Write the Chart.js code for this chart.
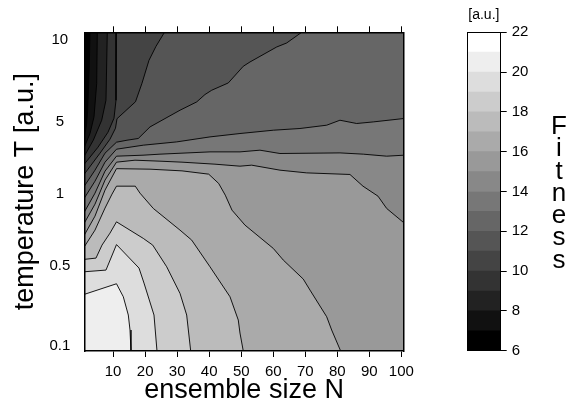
<!DOCTYPE html>
<html lang="en">
<head>
<meta charset="UTF-8">
<title>Fitness over ensemble size and temperature</title>
<script src="https://cdn.jsdelivr.net/npm/chart.js"></script>
<style>
  html, body { margin: 0; padding: 0; background: #fff; }
  #wrap { position: relative; width: 573px; height: 407px; }
  #contour { position: absolute; left: 0; top: 0; }
  #scale { position: absolute; left: 420px; top: 0; }
  #fitness {
    position: absolute; left: 544px; top: 114px; width: 30px;
    text-align: center; color: #000;
    font-family: "Liberation Sans", Arial, sans-serif; font-size: 26px; line-height: 22.3px;
  }
</style>
</head>
<body>
<div id="wrap">
  <canvas id="contour" width="420" height="407"></canvas>
  <canvas id="scale" width="153" height="407"></canvas>
  <div id="fitness">F<br>i<br>t<br>n<br>e<br>s<br>s</div>
</div>

<script>
  // axes
  const nTicks = [10, 20, 30, 40, 50, 60, 70, 80, 90, 100];
  const nRange = [1, 100.8];
  const tLabels = ['0.1', '0.5', '1', '5', '10'];
  const tAt = [1.6, 26.6, 49.2, 71.9, 97.5];   // where each T label sits on the axis
  const tRange = [0, 100];

  // iso-fitness lines as [N, T-axis position]
  const iso07 = [[2.78, 100], [2.56, 89.12], [2.06, 75.55], [1.69, 70.85], [1, 67.4]];
  const iso08 = [[5.06, 100], [4.87, 83.92], [4.03, 73.45], [2.78, 68.24], [1, 63.95]];
  const iso09 = [[8.18, 100], [7.77, 78.68], [6.43, 72.41], [3.81, 66.14], [1, 61.13]];
  const iso10 = [[10.99, 100], [10.9, 78.68], [10.27, 73.04], [8.4, 68.65], [5.28, 63.95], [1, 58.62]];
  const iso11 = [[1, 55.49], [5.9, 62.07], [9.02, 66.46], [10.74, 69.91], [11.21, 72.88], [16.99, 78.21],
                 [19.01, 84.01], [21.2, 91.22], [23.39, 95.61], [26.04, 100]];
  const iso12 = [[1, 51.72], [4.34, 56.74], [7.46, 62.07], [11.05, 65.52], [14.33, 66.14], [17.86, 66.68],
                 [21.51, 70.31], [30.88, 75.55], [36.09, 78.15], [38.68, 80.47], [40.78, 81.82], [45.96, 84.11],
                 [50.64, 89.34], [52.73, 90.69], [61.07, 95.39], [64.19, 96.65], [68.87, 100]];
  const iso13 = [[1, 47.96], [4.34, 53.29], [7.46, 59.25], [11.05, 63.32], [19.42, 64.58], [29.85, 65.61],
                 [40.24, 67.18], [49.61, 68.24], [60.01, 69.28], [68.34, 69.81], [76.68, 70.85], [80.83, 72.41],
                 [86.05, 71.38], [91.23, 71.88], [100.8, 72.95]];
  const iso14 = [[1, 43.57], [4.34, 49.53], [7.46, 56.43], [11.05, 61.13], [19.33, 61.44], [24.63, 61.76],
                 [40.24, 62.48], [49.61, 62.48], [55.85, 63.01], [62.1, 61.97], [80.83, 62.16], [88.11, 61.76],
                 [95.41, 61.13], [100.8, 61.44]];
  const iso15 = [[1, 40.13], [4.34, 46.08], [7.46, 53.61], [11.05, 59.25], [16.83, 59.87], [24.63, 59.56],
                 [31.5, 59.25], [41.81, 58.62], [49.61, 57.99], [53.26, 58.31], [62.1, 56.74], [70.44, 55.89],
                 [83.95, 55.39], [88.01, 51.72], [92.7, 48.59], [95.41, 44.73], [100.8, 40.22]];
  const iso16 = [[1, 36.36], [4.34, 42.32], [7.46, 50.47], [11.05, 57.21], [21.51, 57.05], [31.5, 56.52],
                 [39.84, 55.49], [42.96, 52.57], [45.02, 48.9], [47.11, 44.2], [51.17, 39.5], [60.01, 32.19],
                 [63.13, 28.53], [69.37, 22.57], [71.47, 19.12], [76.68, 10.75], [78.24, 6.58], [81.05, 0]];
  const iso17 = [[1, 32.7], [4.34, 37.93], [7.46, 44.83], [9.65, 49.22], [11.05, 51.72], [16.92, 51.72],
                 [18.39, 49.53], [22.54, 44.73], [30.88, 37.93], [34.53, 34.8], [40.24, 26.43], [46.49, 17.02],
                 [49.08, 9.72], [49.61, 5.64], [50.64, 0]];
  const iso18 = [[1, 28.75], [4.65, 29.15], [6.53, 33.23], [9.02, 36.99], [11.05, 40.53], [19.42, 35.33],
                 [22.36, 33.23], [26.73, 26.43], [30.88, 18.09], [32.97, 11.29], [34.22, 0]];
  const iso19 = [[1, 24.86], [7.77, 25.39], [11.05, 33.39], [18.08, 26.02], [19.64, 21.32], [22.76, 11.29], [23.7, 0]];
  const iso20 = [[1, 17.77], [11.05, 21.1], [13.18, 17.02], [14.74, 11.29], [15.27, 6.58], [15.58, 0]];

  const isoLines = [[7, iso07], [8, iso08], [9, iso09], [10, iso10], [11, iso11], [12, iso12], [13, iso13],
                    [14, iso14], [15, iso15], [16, iso16], [17, iso17], [18, iso18], [19, iso19], [20, iso20]];

  // colour key
  const fitnessEdges = [6, 7, 8, 9, 10, 11, 12, 13, 14, 15, 16, 17, 18, 19, 20, 21, 22];
  const keyTicks = [6, 8, 10, 12, 14, 16, 18, 20, 22];

  Chart.defaults.font.family = '"Liberation Sans", Arial, sans-serif';
  Chart.defaults.color = '#000';

  function grey(lo) {
    const v = Math.round(255 * (lo - 6) / 15);
    return 'rgb(' + v + ',' + v + ',' + v + ')';
  }

  // corners of the plotting window, counter-clockwise from bottom left
  const corners = [[nRange[0], tRange[0]], [nRange[1], tRange[0]], [nRange[1], tRange[1]], [nRange[0], tRange[1]]];
  const mod4 = v => ((v % 4) + 4) % 4;

  // position of an edge point along the frame, 0..4
  function perim([x, y]) {
    const w = nRange[1] - nRange[0], h = tRange[1] - tRange[0];
    if (Math.abs(y - tRange[0]) < 1e-6) return (x - nRange[0]) / w;
    if (Math.abs(x - nRange[1]) < 1e-6) return 1 + (y - tRange[0]) / h;
    if (Math.abs(y - tRange[1]) < 1e-6) return 2 + (nRange[1] - x) / w;
    return 3 + (tRange[1] - y) / h;
  }

  // close an iso line along the frame so the area holds the high-fitness corner
  function region(line) {
    const sA = perim(line[0]);
    const sB = perim(line[line.length - 1]);
    const down = mod4(sB - sA);
    let walk;
    if (mod4(sB) < down) {
      walk = [0, 1, 2, 3].filter(k => mod4(sB - k) > 0 && mod4(sB - k) < down)
        .sort((a, b) => mod4(sB - a) - mod4(sB - b));
    } else {
      const up = mod4(sA - sB);
      walk = [0, 1, 2, 3].filter(k => mod4(k - sB) > 0 && mod4(k - sB) < up)
        .sort((a, b) => mod4(a - sB) - mod4(b - sB));
    }
    return line.concat(walk.map(k => corners[k]), [line[0]]).map(([x, y]) => ({x, y}));
  }

  const areas = isoLines.map(([lvl, line]) => ({
    data: region(line),
    backgroundColor: grey(lvl),
    borderColor: '#000',
    borderWidth: 0.9,
    fill: 'shape',
    showLine: true,
    pointRadius: 0
  })).reverse();

  // lowest band fills the whole window
  areas.push({
    data: corners.concat([corners[0]]).map(([x, y]) => ({x, y})),
    backgroundColor: grey(6),
    borderWidth: 0,
    fill: 'shape',
    showLine: true,
    pointRadius: 0
  });

  const frame = { color: '#000', width: 1.5, z: 1 };

  new Chart(document.getElementById('contour'), {
    type: 'scatter',
    data: { datasets: areas },
    options: {
      responsive: false,
      animation: false,
      events: [],
      layout: { padding: { left: 0, right: 16, top: 0, bottom: 0 } },
      plugins: { legend: { display: false }, tooltip: { enabled: false } },
      scales: {
        x: {
          type: 'linear', position: 'bottom', min: nRange[0], max: nRange[1],
          afterBuildTicks: ax => { ax.ticks = nTicks.map(v => ({value: v})); },
          afterFit: ax => { ax.height = 56; },
          ticks: { font: { size: 15 }, padding: 6, maxRotation: 0, autoSkip: false },
          grid: { drawOnChartArea: false, tickLength: 6, color: '#000' },
          border: frame,
          title: { display: true, text: 'ensemble size N', font: { size: 27 }, padding: { top: 0, bottom: 0 } }
        },
        xTop: {
          type: 'linear', position: 'top', min: nRange[0], max: nRange[1],
          afterBuildTicks: ax => { ax.ticks = nTicks.map(v => ({value: v})); },
          afterFit: ax => { ax.height = 32.3; },
          ticks: { display: false },
          grid: { drawOnChartArea: false, tickLength: 6, color: '#000' },
          border: frame
        },
        y: {
          type: 'linear', position: 'left', min: tRange[0], max: tRange[1],
          afterBuildTicks: ax => { ax.ticks = tAt.map(v => ({value: v})); },
          afterFit: ax => { ax.width = 84.3; },
          ticks: { callback: (v, i) => tLabels[i], crossAlign: 'center', padding: 14, font: { size: 15 }, autoSkip: false },
          grid: { display: false, drawTicks: false },
          border: frame,
          title: { display: true, text: 'temperature T [a.u.]', font: { size: 27 }, padding: { top: 9, bottom: 0 } }
        },
        yRight: {
          type: 'linear', position: 'right', min: tRange[0], max: tRange[1],
          afterFit: ax => { ax.width = 0; },
          ticks: { display: false },
          grid: { display: false, drawTicks: false },
          border: frame
        }
      }
    }
  });

  // colour key: one floating bar per fitness band
  const bands = fitnessEdges.slice(0, -1).map(lo => ({
    data: [[lo, lo + 1]],
    backgroundColor: grey(lo),
    borderWidth: 0,
    grouped: false,
    barPercentage: 1,
    categoryPercentage: 1
  }));

  const keyFrame = { color: '#000', width: 1, z: 1 };

  new Chart(document.getElementById('scale'), {
    type: 'bar',
    data: { labels: [''], datasets: bands },
    options: {
      responsive: false,
      animation: false,
      events: [],
      layout: { padding: { left: 47.7, right: 0, top: 0, bottom: 56.3 } },
      plugins: { legend: { display: false }, tooltip: { enabled: false } },
      scales: {
        x: {
          position: 'top',
          afterFit: ax => { ax.height = 32.3; },
          ticks: { display: false },
          grid: { display: false, drawTicks: false },
          border: keyFrame,
          title: { display: true, text: '[a.u.]', font: { size: 14 }, padding: { top: 7, bottom: 0 } }
        },
        xBottom: {
          type: 'category', labels: [''], position: 'bottom',
          afterFit: ax => { ax.height = 0; },
          ticks: { display: false },
          grid: { display: false, drawTicks: false },
          border: keyFrame
        },
        y: {
          position: 'right', min: fitnessEdges[0], max: fitnessEdges[fitnessEdges.length - 1],
          afterBuildTicks: ax => { ax.ticks = keyTicks.map(v => ({value: v})); },
          afterFit: ax => { ax.width = 73; },
          ticks: { font: { size: 15 }, padding: 5 },
          grid: { drawOnChartArea: false, tickLength: 6.7, color: '#000' },
          border: keyFrame
        },
        yLeft: {
          position: 'left', min: fitnessEdges[0], max: fitnessEdges[fitnessEdges.length - 1],
          afterFit: ax => { ax.width = 0; },
          ticks: { display: false },
          grid: { display: false, drawTicks: false },
          border: keyFrame
        }
      }
    }
  });
</script>
</body>
</html>
